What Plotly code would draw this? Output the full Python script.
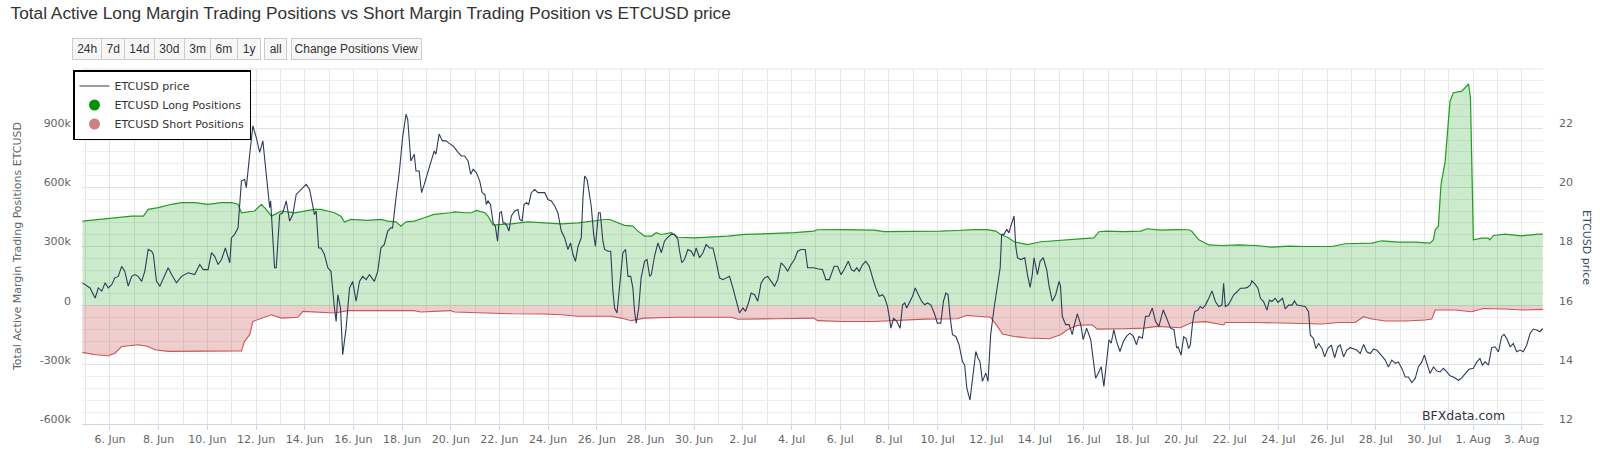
import pandas as pd
import plotly.graph_objects as go

# ---------------- data (days since BASE_DATE, values) ----------------
BASE_DATE = "2023-06-06"

price_days = [
    -1.13, -0.96, -0.82, -0.61, -0.48, -0.34, -0.20, -0.07, 0.07, 0.20,
    0.34, 0.48, 0.61, 0.75, 0.89, 1.02, 1.16, 1.30, 1.43, 1.57,
    1.71, 1.78, 1.91, 2.05, 2.19, 2.39, 2.53, 2.73, 2.94, 3.21,
    3.48, 3.69, 3.83, 4.03, 4.17, 4.30, 4.44, 4.58, 4.74, 4.92,
    4.99, 5.12, 5.26, 5.33, 5.40, 5.53, 5.60, 5.74, 5.87, 6.01,
    6.15, 6.28, 6.35, 6.49, 6.56, 6.60, 6.69, 6.76, 6.83, 6.97,
    7.10, 7.24, 7.38, 7.51, 7.65, 7.86, 8.06, 8.20, 8.33, 8.40,
    8.47, 8.57, 8.67, 8.81, 8.95, 9.08, 9.22, 9.29, 9.36, 9.47,
    9.56, 9.70, 9.84, 9.97, 10.11, 10.25, 10.38, 10.52, 10.66, 10.86,
    11.00, 11.13, 11.27, 11.41, 11.54, 11.61, 11.75, 11.89, 12.02, 12.16,
    12.23, 12.36, 12.50, 12.57, 12.70, 12.80, 12.91, 13.11, 13.32, 13.39,
    13.52, 13.66, 13.80, 13.98,
    14.10, 14.30, 14.44, 14.57, 14.71, 14.82, 14.92, 15.05, 15.19, 15.29,
    15.40, 15.46, 15.53, 15.63, 15.74, 15.83, 15.92, 16.01, 16.08, 16.15,
    16.22, 16.31, 16.39, 16.49, 16.63, 16.76, 16.83, 16.93, 17.01, 17.11,
    17.20, 17.31, 17.45, 17.58, 17.72, 17.86, 17.99, 18.13, 18.27, 18.40,
    18.54, 18.68, 18.81, 18.92, 19.02, 19.12, 19.23, 19.36, 19.43, 19.50,
    19.60, 19.68, 19.77, 19.87, 19.94, 20.07, 20.14, 20.25, 20.32, 20.46,
    20.57, 20.66, 20.73, 20.83, 20.94, 21.07, 21.18, 21.28, 21.39, 21.48,
    21.55, 21.62, 21.72, 21.82, 21.96, 22.06, 22.17, 22.24, 22.37, 22.51,
    22.65, 22.78, 22.89, 23.06, 23.19, 23.33, 23.40, 23.49, 23.60, 23.74,
    23.88, 23.99, 24.08, 24.22, 24.36, 24.49, 24.63, 24.77, 24.90, 25.04,
    25.18, 25.31, 25.45, 25.59, 25.72, 25.86, 26.00, 26.11, 26.23, 26.34,
    26.48, 26.61, 26.75, 26.89, 27.02, 27.16, 27.30, 27.43, 27.57, 27.71,
    27.84, 27.98, 28.12, 28.25, 28.39, 28.56, 28.66, 28.80, 28.91,
    29.07, 29.27, 29.41, 29.55, 29.75, 29.89, 30.03, 30.16, 30.33, 30.46,
    30.57, 30.68, 30.78, 30.92, 31.05, 31.19, 31.33, 31.46, 31.60, 31.74,
    31.83, 31.94, 32.01, 32.08, 32.19, 32.32, 32.46, 32.56, 32.65, 32.73,
    32.83, 32.97, 33.08, 33.20, 33.34, 33.47, 33.58, 33.72, 33.86, 33.99,
    34.13, 34.24, 34.34, 34.43, 34.51, 34.61, 34.75, 34.88, 35.02, 35.11,
    35.20, 35.33, 35.43, 35.57, 35.66, 35.74, 35.84, 35.98, 36.07, 36.18,
    36.32, 36.46, 36.57, 36.63, 36.73, 36.84, 36.93, 37.03, 37.14, 37.21,
    37.28, 37.41, 37.58, 37.69, 37.80, 37.89, 37.96, 38.10, 38.21, 38.34,
    38.48, 38.58, 38.71, 38.85, 38.99, 39.05, 39.12, 39.26, 39.40, 39.53,
    39.60, 39.74, 39.88, 39.98, 40.12, 40.29, 40.39, 40.49, 40.63, 40.72,
    40.83, 40.94, 41.04, 41.13, 41.24, 41.35, 41.49, 41.63, 41.76, 41.90,
    42.04, 42.17, 42.27, 42.41, 42.54, 42.68, 42.82, 42.95, 43.09, 43.27,
    43.43, 43.57, 43.71, 43.82,
    43.88, 44.00, 44.11, 44.21, 44.31, 44.38, 44.48, 44.56, 44.70, 44.79,
    44.89, 45.00, 45.14, 45.27, 45.41, 45.55, 45.68, 45.75, 45.82, 45.93,
    46.02, 46.16, 46.30, 46.44, 46.57, 46.71, 46.85, 46.91, 47.05, 47.16,
    47.26, 47.39, 47.53, 47.63, 47.73, 47.87, 47.98, 48.08, 48.17, 48.28,
    48.42, 48.56, 48.66, 48.76, 48.90, 49.10, 49.24, 49.31, 49.44, 49.54,
    49.65, 49.79, 49.90, 50.03, 50.17, 50.31, 50.44, 50.54, 50.68, 50.81,
    50.95, 51.09, 51.22, 51.36, 51.50, 51.63, 51.77, 51.91, 52.04, 52.22,
    52.39, 52.52, 52.66, 52.80, 52.93, 53.07, 53.21, 53.34, 53.48, 53.62,
    53.75, 53.89, 54.00, 54.10, 54.23, 54.37, 54.51, 54.64, 54.78, 54.92,
    55.05, 55.19, 55.40, 55.53, 55.67, 55.83, 56.01, 56.15, 56.28, 56.38,
    56.49, 56.63, 56.76, 56.90, 57.04, 57.17, 57.27, 57.38, 57.52, 57.65,
    57.79, 57.93, 58.06, 58.20, 58.34, 58.47, 58.61, 58.75, 58.86,
]
price_usd = [
    16.77, 16.66, 16.60, 16.26, 16.60, 16.49, 16.77, 16.60, 16.71, 16.94,
    16.99, 17.33, 17.16, 16.66, 16.99, 17.05, 16.99, 16.82, 17.16, 17.90,
    17.84, 17.73, 16.82, 16.66, 16.94, 17.28, 17.05, 16.77, 16.99, 17.11,
    17.05, 17.39, 17.22, 17.22, 17.79, 17.67, 17.39, 17.56, 17.95, 17.45,
    18.29, 18.41, 18.63, 19.31, 20.21, 20.27, 19.99, 21.12, 22.08, 21.68,
    21.18, 21.57, 21.01, 19.65, 19.31, 19.54, 18.18, 17.28, 17.28, 19.08,
    19.14, 19.54, 18.86, 19.08, 19.76, 19.93, 20.10, 19.93, 19.31, 19.08,
    19.20, 17.95, 17.95, 17.73, 17.28, 17.16, 15.92, 15.47, 16.37, 15.92,
    14.34, 15.24, 16.60, 16.82, 16.15, 16.82, 16.99, 16.88, 17.05, 16.82,
    17.16, 17.95, 18.07, 18.52, 18.63, 18.63, 19.65, 20.55, 21.68, 22.47,
    22.31, 20.89, 21.12, 20.55, 20.55, 19.82, 20.10, 20.67, 21.23, 21.12,
    21.80, 21.57, 21.57, 21.46,
    21.40, 21.18, 21.06, 21.06, 20.89, 20.44, 20.61, 20.50, 20.21, 19.82,
    19.76, 19.42, 19.54, 19.42, 18.80, 18.69, 18.18, 19.14, 19.18, 18.80,
    18.80, 18.69, 18.52, 19.03, 19.20, 19.25, 18.92, 18.86, 19.42, 19.48,
    19.42, 19.82, 19.93, 19.82, 19.82, 19.82, 19.59, 19.54, 19.37, 19.14,
    18.52, 18.29, 17.90, 18.12, 17.73, 17.50, 18.01, 18.29, 19.65, 20.38,
    20.27, 19.82, 19.37, 18.41, 18.01, 19.14, 19.14, 18.18, 17.90, 17.84,
    17.84, 16.49, 15.92, 15.75, 16.71, 17.79, 17.90, 16.99, 16.99, 16.60,
    15.81, 15.41, 15.92, 16.94, 17.50, 17.56, 16.99, 17.05, 17.67, 18.12,
    17.79, 18.18, 18.29, 18.41, 18.41, 18.24, 17.84, 17.45, 17.56, 17.90,
    17.84, 17.67, 17.95, 17.62, 17.79, 18.07, 17.95, 17.95, 17.50, 16.94,
    16.88, 16.94, 16.99, 16.60, 16.15, 15.75, 15.92, 15.81, 16.09, 16.43,
    16.37, 16.15, 16.77, 16.94, 16.99, 16.82, 16.66, 16.88, 17.45, 17.33,
    17.16, 17.39, 17.56, 17.84, 17.90, 17.90, 17.28, 17.28, 17.28,
    17.25, 17.22, 16.88, 16.88, 17.33, 17.33, 17.05, 17.22, 17.50, 17.22,
    17.16, 17.28, 17.16, 17.39, 17.50, 17.33, 16.94, 16.60, 16.32, 16.37,
    16.26, 15.98, 15.64, 15.24, 15.58, 15.47, 15.24, 16.03, 16.09, 15.92,
    16.09, 16.32, 16.60, 16.37, 16.15, 16.03, 16.09, 16.03, 15.75, 15.41,
    15.41, 16.15, 16.43, 16.37, 15.64, 15.02, 14.96, 14.68, 14.11, 14.00,
    13.21, 12.81, 13.49, 14.45, 14.23, 14.11, 13.44, 13.72, 13.44, 15.02,
    15.92, 16.77, 17.28, 18.41, 18.41, 18.58, 18.46, 18.75, 19.03, 18.01,
    17.62, 17.56, 17.62, 17.05, 16.62, 17.05, 17.62, 17.05, 17.50, 17.62,
    17.22, 16.66, 16.15, 16.37, 16.82, 16.66, 15.64, 15.36, 15.36, 15.02,
    15.30, 15.72, 15.36, 14.85, 15.24, 14.85, 14.23, 13.55, 13.77, 13.94,
    13.27, 14.11, 14.85, 14.73, 15.19, 14.79, 14.45, 14.79, 14.96, 15.07,
    14.96, 14.68, 14.96, 14.90, 15.64, 15.64, 15.92, 15.47, 15.30, 15.86,
    15.52, 15.24, 15.19, 14.57,
    14.61, 14.33, 14.95, 14.89, 14.55, 14.67, 15.46, 15.80, 15.85, 15.97,
    15.91, 16.02, 16.25, 16.50, 16.14, 15.97, 16.02, 16.76, 15.97, 16.02,
    16.14, 16.36, 16.47, 16.59, 16.59, 16.61, 16.70, 16.84, 16.72, 16.59,
    16.25, 16.14, 15.85, 16.19, 16.14, 16.25, 16.11, 16.19, 16.25, 15.89,
    16.02, 16.02, 16.16, 16.02, 16.00, 15.97, 15.80, 15.01, 14.89, 14.55,
    14.72, 14.55, 14.27, 14.55, 14.67, 14.24, 14.61, 14.67, 14.27, 14.50,
    14.58, 14.55, 14.50, 14.38, 14.69, 14.44, 14.38, 14.53, 14.50, 14.33,
    14.16, 13.93, 14.16, 14.05, 14.10, 13.88, 13.59, 13.59, 13.40, 13.54,
    13.93, 14.10, 14.33, 14.05, 13.71, 13.93, 13.79, 13.76, 13.88, 13.76,
    13.63, 13.59, 13.48, 13.56, 13.71, 13.85, 13.88, 14.10, 14.21, 13.99,
    14.10, 13.99, 14.58, 14.61, 14.44, 14.95, 15.03, 14.89, 14.61, 14.72,
    14.44, 14.50, 14.44, 14.67, 15.06, 15.21, 15.18, 15.12, 15.23,
]

long_days = [
    -1.13, -0.48, 0.20, 0.89, 1.37, 1.57, 1.98, 2.53, 2.94, 3.48,
    4.03, 4.58, 4.99, 5.26, 5.40, 5.94, 6.22, 6.42, 6.63, 7.04,
    7.58, 8.40, 8.67, 9.22, 9.49, 9.63, 9.90, 10.59, 11.13, 11.41,
    11.75, 11.95, 12.16, 12.50, 12.91, 13.32, 13.98,
    14.16, 14.57, 14.85, 15.05, 15.40, 15.53, 15.74, 16.08, 16.49, 17.17,
    17.86, 18.54, 19.23, 19.91, 20.32, 20.53, 20.87, 21.14, 21.48, 21.69,
    21.96, 22.24, 22.44, 22.65, 23.06, 23.33, 24.01, 24.70, 25.38, 26.07,
    26.75, 27.43, 28.12, 28.91,
    29.07, 30.03, 30.85, 31.39, 31.80, 32.76, 33.45, 34.13, 34.81, 35.50,
    36.05, 36.39, 36.59, 36.87, 37.14, 37.69, 38.24, 38.92, 39.60, 40.42,
    40.63, 40.97, 41.65, 42.34, 42.61, 43.16, 43.82,
    44.31, 44.45, 44.73, 45.14, 45.68, 46.37, 47.05, 47.73, 48.42, 49.10,
    49.79, 50.20, 50.74, 51.29, 51.84, 52.25, 52.93, 53.62, 54.23, 54.37,
    54.44, 54.57, 54.68, 54.85, 55.05, 55.19, 55.53, 55.67, 55.81, 55.89,
    56.01, 56.35, 56.63, 56.69, 56.83, 57.31, 57.99, 58.68, 58.86,
]
long_k = [
    429, 437, 446, 454, 454, 488, 497, 514, 522, 522,
    514, 522, 522, 514, 471, 480, 514, 488, 454, 480,
    471, 488, 488, 471, 454, 424, 437, 432, 437, 429,
    425, 403, 425, 429, 446, 463, 471,
    476, 471, 471, 483, 471, 454, 408, 412, 415, 425,
    420, 415, 420, 432, 437, 437, 420, 407, 403, 378,
    353, 353, 370, 361, 370, 347, 344, 347, 353, 361,
    364, 364, 370, 378,
    385, 386, 386, 383, 375, 375, 378, 378, 381, 386,
    386, 378, 361, 347, 324, 310, 324, 331, 336, 344,
    375, 378, 375, 378, 390, 383, 386,
    385, 376, 334, 308, 305, 308, 305, 297, 302, 300,
    300, 300, 314, 314, 317, 329, 322, 322, 317, 334,
    385, 402, 614, 732, 1037, 1080, 1088, 1105, 1125, 1054,
    334, 342, 342, 334, 356, 363, 354, 363, 363,
]

short_days = [
    -1.13, -0.61, -0.07, 0.20, 0.48, 1.16, 1.57, 1.84, 2.39, 2.94,
    4.30, 5.40, 5.53, 5.74, 5.87, 6.08, 6.28, 6.63, 7.04, 7.72,
    7.92, 8.40, 9.22, 9.77, 11.13, 12.50, 12.77, 13.32, 13.98,
    14.16, 15.12, 16.49, 17.86, 18.54, 19.23, 20.59, 21.00, 21.41, 21.96,
    23.33, 25.52, 25.79, 27.43, 28.91,
    29.07, 30.03, 31.39, 32.76, 33.45, 34.81, 35.22, 35.63, 36.18, 36.46,
    36.66, 37.14, 37.69, 38.58, 39.05, 39.33, 39.74, 40.35, 40.56, 41.65,
    42.47, 43.02, 43.82,
    43.97, 44.45, 45.00, 45.75, 45.82, 47.05, 48.42, 49.79, 50.47, 51.15,
    51.50, 51.84, 52.39, 53.21, 54.03, 54.30, 54.44, 55.26, 55.94, 56.42,
    57.31, 57.99, 58.86,
]
short_k = [
    -237, -249, -254, -241, -207, -198, -207, -224, -232, -232,
    -232, -229, -181, -147, -80, -71, -63, -46, -63, -59,
    -29, -32, -37, -25, -25, -25, -32, -29, -25,
    -32, -37, -41, -42, -46, -54, -54, -63, -76, -63,
    -59, -59, -69, -66, -63,
    -76, -80, -80, -73, -68, -66, -49, -54, -59, -105,
    -144, -156, -164, -168, -147, -122, -100, -97, -119, -117,
    -114, -105, -108,
    -112, -85, -81, -98, -85, -85, -88, -93, -85, -85,
    -56, -68, -78, -78, -73, -68, -22, -22, -31, -14,
    -17, -22, -19,
]

left_tick_vals = [-600000, -300000, 0, 300000, 600000, 900000]
left_tick_text = ["-600k", "-300k", "0", "300k", "600k", "900k"]
right_tick_vals = [12, 14, 16, 18, 20, 22]
range_buttons = ["24h", "7d", "14d", "30d", "3m", "6m", "1y"]

# ---------------- helpers ----------------
base = pd.Timestamp(BASE_DATE)


def to_time(days):
    return [base + pd.Timedelta(days=d) for d in days]


W, H = 1600, 466
ML, MR, MT, MB = 82, 57, 69, 42
PW, PH = W - ML - MR, H - MT - MB


def px_x(x):
    return (x - ML) / PW


def px_y(y):
    return (H - MB - y) / PH


GREEN_LINE = "#1f9e1f"
GREEN_FILL = "rgba(0,150,0,0.20)"
RED_LINE = "#c45858"
RED_FILL = "rgba(200,70,70,0.27)"
PRICE = "#2f3c58"
LABEL_FONT = dict(family="DejaVu Sans", size=11, color="#666666")

fig = go.Figure()

fig.add_trace(go.Scatter(
    x=to_time(long_days), y=[v * 1000 for v in long_k],
    mode="lines", line=dict(color=GREEN_LINE, width=1.2),
    fill="tozeroy", fillcolor=GREEN_FILL, showlegend=False,
    name="ETCUSD Long Positions", yaxis="y"))
fig.add_trace(go.Scatter(
    x=to_time(short_days), y=[v * 1000 for v in short_k],
    mode="lines", line=dict(color=RED_LINE, width=1.1),
    fill="tozeroy", fillcolor=RED_FILL, showlegend=False,
    name="ETCUSD Short Positions", yaxis="y"))
fig.add_trace(go.Scatter(
    x=to_time(price_days), y=price_usd, mode="lines",
    line=dict(color=PRICE, width=1.1), name="ETCUSD price",
    yaxis="y2", legendrank=1))
# legend markers
fig.add_trace(go.Scatter(
    x=[None], y=[None], mode="markers", name="ETCUSD Long Positions",
    marker=dict(symbol="circle", size=11, color="#0a8f0a"), legendrank=2))
fig.add_trace(go.Scatter(
    x=[None], y=[None], mode="markers", name="ETCUSD Short Positions",
    marker=dict(symbol="circle", size=11, color="#cf7f7f"), legendrank=3))

x_start = base + pd.Timedelta(days=-1.15)
x_end = base + pd.Timedelta(days=58.87)

annotations = []
# range selector buttons
btn_edges = [71.7, 101, 124.3, 154, 183.7, 210, 236.7, 260]
for i, lab in enumerate(range_buttons):
    x0, x1 = btn_edges[i], btn_edges[i + 1]
    annotations.append(dict(
        text=lab, xref="paper", yref="paper", x=px_x(x0), y=px_y(38.3),
        xanchor="left", yanchor="top", showarrow=False,
        width=x1 - x0 - 1, height=20, borderpad=0, borderwidth=1,
        bordercolor="#cccccc", bgcolor="#f7f7f7",
        font=dict(family="Liberation Sans", size=12, color="#333333")))
for lab, x0, x1 in [("all", 264.3, 286.7), ("Change Positions View", 291, 420.7)]:
    annotations.append(dict(
        text=lab, xref="paper", yref="paper", x=px_x(x0), y=px_y(38.3),
        xanchor="left", yanchor="top", showarrow=False,
        width=x1 - x0 - 1, height=20, borderpad=0, borderwidth=1,
        bordercolor="#cccccc", bgcolor="#f7f7f7",
        font=dict(family="Liberation Sans", size=12, color="#333333")))
# axis titles
annotations.append(dict(
    text="Total Active Margin Trading Positions ETCUSD", xref="paper", yref="paper",
    x=px_x(17), y=px_y(247), xanchor="center", yanchor="middle", textangle=-90,
    showarrow=False, font=dict(family="DejaVu Sans", size=11, color="#666666")))
annotations.append(dict(
    text="ETCUSD price", xref="paper", yref="paper",
    x=px_x(1587), y=px_y(247), xanchor="center", yanchor="middle", textangle=90,
    showarrow=False, font=dict(family="DejaVu Sans", size=11, color="#3b4866")))
# watermark
annotations.append(dict(
    text="BFXdata.com", xref="paper", yref="paper", x=px_x(1507), y=px_y(415),
    xanchor="right", yanchor="middle", showarrow=False,
    font=dict(family="DejaVu Sans", size=12.5, color="#333344")))

fig.update_layout(
    width=W, height=H, autosize=False,
    margin=dict(l=ML, r=MR, t=MT, b=MB, pad=0),
    paper_bgcolor="white", plot_bgcolor="white",
    font=dict(family="DejaVu Sans", size=11, color="#333333"),
    title=dict(
        text="Total Active Long Margin Trading Positions vs Short Margin Trading Position vs ETCUSD price",
        xref="container", yref="container", x=10.5 / W, xanchor="left",
        y=1 - 13 / H, yanchor="middle",
        font=dict(family="Liberation Sans", size=17.3, color="#333333")),
    xaxis=dict(
        type="date", range=[x_start, x_end],
        tick0=BASE_DATE, dtick=2 * 86400000, tickformat="%-d. %b",
        showgrid=True, gridcolor="#e6e6e6", gridwidth=1,
        minor=dict(dtick=86400000, tick0=BASE_DATE, showgrid=True,
                   gridcolor="#e6e6e6", ticks=""),
        showline=True, linecolor="#ccd6eb", linewidth=1,
        ticks="outside", ticklen=5, tickcolor="#ccd6eb",
        tickfont=LABEL_FONT, zeroline=False, fixedrange=True),
    yaxis=dict(
        range=[-600000, 1200000], tickmode="array",
        tickvals=left_tick_vals, ticktext=left_tick_text,
        showgrid=True, gridcolor="#e0e0e0",
        minor=dict(tickmode="linear", tick0=0, dtick=60000, showgrid=True,
                   gridcolor="#eeeeee", ticks=""),
        zeroline=False, ticks="", tickfont=LABEL_FONT,
        ticklabelshift=-5, ticklabelstandoff=10, fixedrange=True),
    yaxis2=dict(
        overlaying="y", side="right", range=[12, 24], tickmode="array",
        tickvals=right_tick_vals, showgrid=False, zeroline=False, ticks="",
        tickfont=LABEL_FONT, ticklabelshift=-5, ticklabelstandoff=15,
        fixedrange=True),
    legend=dict(
        x=px_x(73), y=px_y(70), xanchor="left", yanchor="top",
        bgcolor="white", bordercolor="#000000", borderwidth=1.5,
        font=dict(family="DejaVu Sans", size=11, color="#333333"),
        itemwidth=30, tracegroupgap=0, traceorder="normal"),
    annotations=annotations,
    shapes=[dict(type="line", xref="paper", yref="paper", x0=0, x1=1, y0=1, y1=1,
                 line=dict(color="#e6e6e6", width=1), layer="below")],
    hovermode=False,
)

fig.write_html(
    "out.html",
    config={"displayModeBar": False},
    post_script="document.body.style.margin='0px';document.body.style.overflow='hidden';",
)
